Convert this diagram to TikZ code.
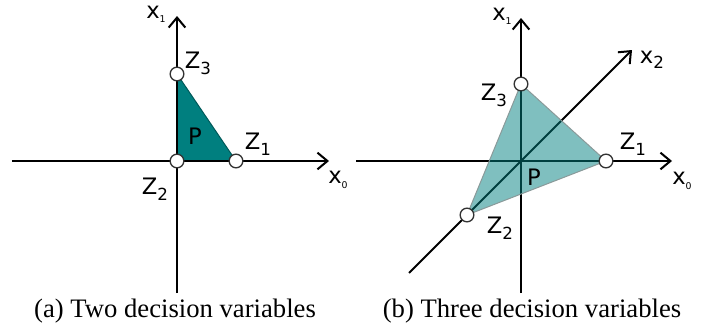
\documentclass[tikz,border=0pt]{standalone}
\usepackage{fontspec}
\setmainfont{Liberation Serif}
\newfontfamily\etqfont{DejaVu Sans}
\usetikzlibrary{positioning,arrows.meta}
\definecolor{cteal}{HTML}{007F7F}
\definecolor{cgris}{HTML}{8A9A9A}
\tikzset{
  eje/.style={line width=0.6pt, draw=black},
  ejef/.style={eje, -{Straight Barb[length=3pt,width=5pt]}},
  punto/.style={circle, draw=black!80, fill=white, line width=0.4pt,
    minimum size=4.1pt, inner sep=0pt},
  etq/.style={font=\etqfont\fontsize{6.8}{8}\selectfont, inner sep=0pt},
  leyenda/.style={font=\fontsize{8}{9}\selectfont, inner sep=0pt},
}
\newcommand{\zsub}[1]{Z\raisebox{-0.5ex}{\fontsize{5}{6}\selectfont #1}}
\newcommand{\xsub}[1]{x\raisebox{-0.35ex}{\fontsize{2.8}{3}\selectfont #1}}
\begin{document}
\begin{tikzpicture}[x=0.3pt, y=-0.3pt]
  \useasboundingbox (0,0) rectangle (709,331);
  % (a) two decision variables
  \coordinate (izqa) at (12,161);
  \coordinate (dera) at (329,161);
  \coordinate (arra) at (177,16);
  \coordinate (abaa) at (177,293);
  \coordinate (va1) at (236,161);
  \coordinate (va2) at (177,161);
  \coordinate (va3) at (177,74);
  \filldraw[cteal, draw=cteal!70!black, line width=0.3pt] (va1) -- (va2) -- (va3) -- cycle;
  \draw[ejef] (izqa) -- (dera);
  \draw[ejef] (abaa) -- (arra);
  \node[punto] (z1a) at (va1) {};
  \node[punto] (z2a) at (va2) {};
  \node[punto] (z3a) at (va3) {};
  \node[etq] (pa) at (195,136) {P};
  \node[etq] (lz1a) at (258,144) {\zsub{1}};
  \node[etq] (lz2a) at (155,189) {\zsub{2}};
  \node[etq] (lz3a) at (198,63) {\zsub{3}};
  \node[etq] (lx0a) at (338,180) {\xsub{0}};
  \node[etq] (lx1a) at (156,14) {\xsub{1}};
  \node[leyenda] (capa) at (175,311) {(a) Two decision variables};
  % (b) three decision variables
  \coordinate (izqb) at (356,161);
  \coordinate (derb) at (672,161);
  \coordinate (arrb) at (521,18);
  \coordinate (abab) at (521,293);
  \coordinate (diab) at (409,273);
  \coordinate (diat) at (632,50);
  \coordinate (vb1) at (606,161);
  \coordinate (vb2) at (467,215);
  \coordinate (vb3) at (521,84);
  \draw[ejef] (izqb) -- (derb);
  \draw[ejef] (abab) -- (arrb);
  \draw[ejef] (diab) -- (diat);
  \filldraw[fill=cteal, fill opacity=0.5, draw=cgris, line width=0.3pt] (vb1) -- (vb2) -- (vb3) -- cycle;
  \node[punto] (z1b) at (vb1) {};
  \node[punto] (z2b) at (vb2) {};
  \node[punto] (z3b) at (vb3) {};
  \node[etq] (pb) at (534,177) {P};
  \node[etq] (lz1b) at (633,144) {\zsub{1}};
  \node[etq] (lz2b) at (500,228) {\zsub{2}};
  \node[etq] (lz3b) at (494,95) {\zsub{3}};
  \node[etq] (lx0b) at (682,181) {\xsub{0}};
  \node[etq] (lx1b) at (502,16) {\xsub{1}};
  \node[etq] (lx2b) at (652,60) {x\raisebox{-0.45ex}{\fontsize{5}{6}\selectfont 2}};
  \node[leyenda] (capb) at (532,311) {(b) Three decision variables};
\end{tikzpicture}
\end{document}
